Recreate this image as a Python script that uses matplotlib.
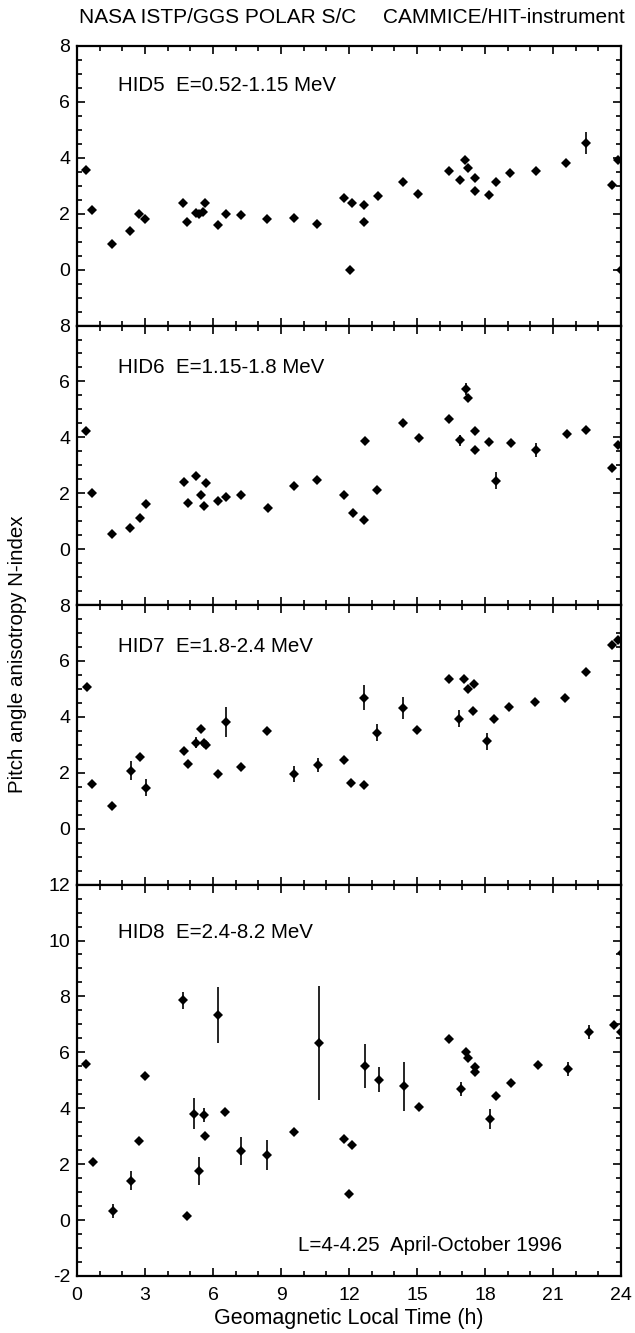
import matplotlib
matplotlib.use("Agg")
import matplotlib.pyplot as plt
import numpy as np
from matplotlib.ticker import MultipleLocator

plt.rcParams['font.family'] = ['Liberation Sans', 'DejaVu Sans']
plt.rcParams['axes.unicode_minus'] = False

# HID5  E=0.52-1.15 MeV
x5 = [0.4, 0.64, 1.54, 2.34, 2.74, 3.0, 4.68, 4.87, 5.23, 5.4, 5.55, 5.63, 6.24, 6.56,
      7.23, 8.37, 9.57, 10.6, 11.8, 12.03, 12.15, 12.68, 12.68, 13.27, 14.4, 15.05,
      16.4, 16.9, 17.12, 17.27, 17.54, 17.57, 18.17, 18.47, 19.11, 20.25, 21.56,
      22.47, 23.6, 23.85, 24.0]
y5 = [3.57, 2.12, 0.9, 1.38, 2.0, 1.81, 2.39, 1.7, 2.04, 2.0, 2.06, 2.39, 1.61, 1.99,
      1.95, 1.8, 1.85, 1.64, 2.55, 0.0, 2.4, 2.3, 1.72, 2.64, 3.14, 2.7,
      3.52, 3.2, 3.93, 3.63, 3.26, 2.81, 2.66, 3.14, 3.44, 3.52, 3.8,
      4.52, 3.02, 3.92, 0.0]
e5 = [0, 0, 0, 0, 0, 0, 0, 0, 0, 0, 0, 0, 0, 0,
      0, 0, 0, 0, 0, 0, 0, 0, 0, 0, 0, 0,
      0, 0, 0, 0, 0, 0, 0, 0, 0, 0, 0,
      0.4, 0, 0, 0]

# HID6  E=1.15-1.8 MeV
x6 = [0.41, 0.67, 1.55, 2.34, 2.78, 3.03, 4.73, 4.9, 5.24, 5.48, 5.68, 5.62, 6.24,
      6.56, 7.23, 8.43, 9.59, 10.6, 11.8, 12.17, 12.68, 12.71, 13.25, 14.37, 15.1,
      16.4, 16.9, 17.15, 17.24, 17.57, 17.57, 18.17, 18.5, 19.16, 20.25, 21.63,
      22.47, 23.6, 23.87]
y6 = [4.24, 2.0, 0.55, 0.75, 1.11, 1.61, 2.41, 1.64, 2.61, 1.93, 2.35, 1.56, 1.71,
      1.85, 1.94, 1.49, 2.27, 2.48, 1.95, 1.3, 1.03, 3.87, 2.12, 4.5, 3.99,
      4.66, 3.9, 5.73, 5.42, 4.24, 3.55, 3.82, 2.45, 3.81, 3.55, 4.12,
      4.26, 2.91, 3.74]
e6 = [0.1, 0, 0, 0, 0, 0, 0, 0, 0, 0, 0, 0, 0,
      0, 0, 0, 0, 0, 0, 0, 0, 0, 0, 0, 0,
      0.15, 0.2, 0.2, 0, 0, 0, 0, 0.3, 0, 0.25, 0,
      0, 0, 0]

# HID7  E=1.8-2.4 MeV
x7 = [0.44, 0.64, 1.55, 2.36, 2.78, 3.03, 4.7, 4.9, 5.23, 5.45, 5.61, 5.67, 6.22,
      6.56, 7.23, 8.39, 9.59, 10.63, 11.79, 12.1, 12.65, 12.65, 13.25, 14.4, 15.0,
      16.39, 16.86, 17.09, 17.24, 17.53, 17.47, 18.1, 18.4, 19.05, 20.2, 21.54,
      22.45, 23.6, 23.85]
y7 = [5.08, 1.61, 0.81, 2.08, 2.58, 1.47, 2.77, 2.31, 3.07, 3.55, 3.07, 2.99, 1.97,
      3.82, 2.19, 3.49, 1.96, 2.28, 2.44, 1.65, 1.55, 4.68, 3.43, 4.32, 3.52,
      5.35, 3.94, 5.35, 5.01, 5.18, 4.22, 3.13, 3.94, 4.34, 4.52, 4.66,
      5.59, 6.58, 6.75]
e7 = [0, 0, 0, 0.35, 0, 0.3, 0.15, 0, 0.2, 0, 0, 0, 0,
      0.55, 0, 0, 0.3, 0.25, 0, 0, 0, 0.45, 0.3, 0.4, 0,
      0, 0.3, 0, 0, 0, 0, 0.3, 0, 0, 0, 0,
      0, 0, 0]

# HID8  E=2.4-8.2 MeV
x8 = [0.4, 0.69, 1.57, 2.37, 2.75, 3.0, 4.66, 4.86, 5.18, 5.39, 5.61, 5.64, 6.22,
      6.54, 7.23, 8.4, 9.59, 10.66, 11.79, 11.98, 12.15, 12.7, 13.32, 14.44, 15.07,
      16.43, 16.93, 17.15, 17.27, 17.55, 17.55, 18.2, 18.5, 19.15, 20.35, 21.65,
      22.6, 23.7, 23.98, 24.05]
y8 = [5.59, 2.06, 0.32, 1.41, 2.83, 5.17, 7.86, 0.14, 3.81, 1.76, 3.75, 3.0, 7.34,
      3.87, 2.47, 2.33, 3.14, 6.33, 2.9, 0.93, 2.7, 5.5, 5.02, 4.78, 4.06,
      6.48, 4.7, 6.0, 5.8, 5.46, 5.29, 3.62, 4.45, 4.9, 5.55, 5.4,
      6.73, 6.96, 6.72, 9.55]
e8 = [0, 0, 0.25, 0.35, 0.1, 0, 0.3, 0, 0.55, 0.5, 0.25, 0.1, 1.0,
      0, 0.5, 0.55, 0.15, 2.05, 0, 0, 0, 0.78, 0.45, 0.87, 0,
      0, 0.25, 0, 0, 0, 0, 0.35, 0, 0, 0, 0.25,
      0.25, 0, 0, 0]

panels = [
    (x5, y5, e5, "HID5  E=0.52-1.15 MeV", (-2, 8), 6.6),
    (x6, y6, e6, "HID6  E=1.15-1.8 MeV", (-2, 8), 6.5),
    (x7, y7, e7, "HID7  E=1.8-2.4 MeV", (-2, 8), 6.5),
    (x8, y8, e8, "HID8  E=2.4-8.2 MeV", (-2, 12), 10.3),
]

fig = plt.figure(figsize=(6.35, 13.33), dpi=100)
gs = fig.add_gridspec(4, 1, height_ratios=[10, 10, 10, 14], hspace=0,
                      left=0.1213, right=0.978, top=0.9655, bottom=0.0428)

for i, (xs, ys, es, label, ylim, ty) in enumerate(panels):
    ax = fig.add_subplot(gs[i])
    xs = np.array(xs)
    ys = np.array(ys)
    es = np.array(es)
    m = es > 0
    ax.errorbar(xs[m], ys[m], yerr=es[m], fmt='none', ecolor='black',
                elinewidth=1.2, capsize=0)
    ax.plot(xs, ys, 'D', color='black', markersize=5.3, markeredgewidth=0)
    ax.set_xlim(0, 24)
    ax.set_ylim(*ylim)
    ax.xaxis.set_major_locator(MultipleLocator(3))
    ax.xaxis.set_minor_locator(MultipleLocator(1))
    ax.yaxis.set_major_locator(MultipleLocator(2))
    ax.yaxis.set_minor_locator(MultipleLocator(0.5))
    ax.tick_params(which='both', direction='in', top=True, right=True,
                   labelsize=14, width=1.2)
    ax.tick_params(which='major', length=6, pad=5)
    ax.tick_params(which='minor', length=3.5)
    ax.tick_params(axis='x', pad=8)
    for s in ax.spines.values():
        s.set_linewidth(1.6)
    # no label at -2 on the upper three panels
    if ylim[1] == 8:
        ax.set_yticks(np.arange(-2, 9, 2))
        ax.set_yticklabels([''] + [str(v) for v in range(0, 9, 2)])
    if i < 3:
        ax.tick_params(axis='x', labelbottom=False)
    else:
        ax.set_xticks(np.arange(0, 25, 3))
        ax.set_xlabel("Geomagnetic Local Time (h)", fontsize=15.5, labelpad=3)
        ax.text(9.75, -0.9, "L=4-4.25  April-October 1996", fontsize=14.8,
                ha='left', va='center')
    ax.text(1.8, ty, label, fontsize=14.8, ha='left', va='center')

fig.text(0.124, 0.987, "NASA ISTP/GGS POLAR S/C", fontsize=15, ha='left', va='center')
fig.text(0.984, 0.987, "CAMMICE/HIT-instrument", fontsize=15, ha='right', va='center')
fig.text(0.028, 0.509, "Pitch angle anisotropy N-index", fontsize=14.8,
         rotation=90, ha='center', va='center')

fig.savefig("out.png", dpi=100)
